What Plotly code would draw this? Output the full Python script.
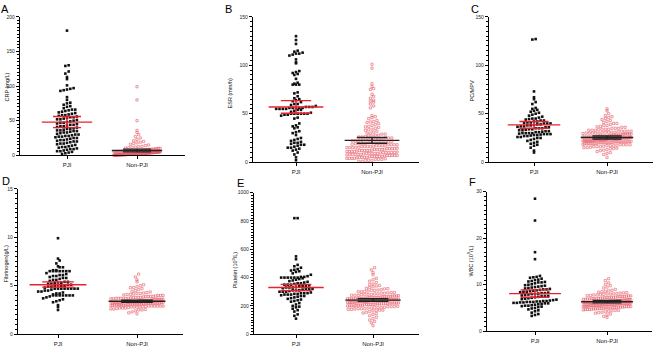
import numpy as np
import plotly.graph_objects as go

# ---------------- DATA ----------------
groups = ["PJI", "Non-PJI"]
panel_letters = ["A", "B", "C", "D", "E", "F"]
y_titles = ["CRP (mg/L)", "ESR (mm/h)", "PC/MPV", "Fibrinogen(g/L)",
            "Platelet (10<sup>9</sup>/L)", "WBC (10<sup>9</sup>/L)"]
y_max = [200, 150, 150, 15, 1000, 30]
y_major = [50, 50, 50, 5, 200, 10]

crp_pji = [180, 130, 129, 121, 118, 113, 110, 101, 97, 96, 95, 94, 93,
           84, 80, 76, 75, 73, 71, 70, 68, 66, 65, 64, 63, 62, 61, 60, 59, 58, 57, 56, 55, 55,
           54, 53, 52, 51, 50, 49, 48, 47, 46, 45, 44, 43, 42, 42, 41, 40, 39, 38, 37, 36, 35,
           35, 34, 33, 32, 31, 30, 30, 29, 28, 27, 26, 25, 25, 24, 23, 22, 21, 20, 20, 19, 18,
           17, 16, 15, 14, 13, 12, 11, 10, 9, 8, 7, 6, 5, 4, 3, 2, 66, 58, 52, 44, 38, 33, 27,
           22, 17, 12, 9, 6, 28, 36, 47]
crp_non = [99, 80, 50, 36, 33, 30, 27, 25, 23, 21, 20, 19, 18, 17, 16, 15, 14, 13,
           12.5, 12, 11.5, 11, 10.5, 10.2, 10, 9.6, 9.3, 9, 8.8, 8.5, 8.2, 8, 7.8, 7.5, 7.2, 7,
           6.8, 6.5, 6.3, 6, 6, 5.8, 5.5, 5.5, 5.3, 5, 5, 5, 4.8, 4.5, 4.5, 4.3, 4.2, 4, 4, 4,
           3.8, 3.6, 3.5, 3.5, 3.3, 3.2, 3, 3, 3, 2.9, 2.8, 2.6, 2.5, 2.5, 2.4, 2.3, 2.2, 2, 2,
           2, 2, 1.9, 1.8, 1.7, 1.6, 1.5, 1.5, 1.5, 1.4, 1.3, 1.2, 1.1, 1, 1, 1, 1, 0.9, 0.8,
           0.8, 0.7, 0.6, 0.5, 0.5, 0.5, 0.5, 0.4, 0.3, 0.3, 1.2, 2.1, 3.4, 4.6, 5.2, 6.1, 7.4,
           8.6, 2.7, 1.8, 0.9, 3.9, 4.4, 2.2, 1.6, 0.7, 5.6, 3.1, 2.4, 1.3, 0.6, 4.1, 3.7, 2.8,
           1.9, 1.1, 0.4, 6.6, 5.9, 4.9, 3.8, 2.6, 1.4, 0.8, 7.1, 2.3, 1.7, 3.2, 4.7, 0.5]

esr_pji = [130, 126, 122, 115, 114, 113, 112, 112, 111, 110, 106, 103, 102, 94, 93, 92, 91,
           90, 86, 82, 81, 80, 80, 80, 72, 71, 68, 66, 65, 64, 63, 62, 60, 60, 59, 58, 57, 57,
           57, 56, 56, 56, 56, 56, 55, 55, 55, 55, 54, 54, 53, 52, 51, 50, 50, 50, 50, 50, 50,
           49, 49, 48, 46, 45, 40, 38, 37, 36, 35, 32, 31, 30, 28, 25, 24, 23, 22, 21, 20, 20,
           19, 18, 18, 17, 16, 15, 15, 14, 13, 12, 10, 8, 5, 2]
esr_non = [101, 97, 81, 78, 76, 75, 70, 68, 66, 64, 63, 62, 60, 58, 56, 48, 47, 45, 43, 42,
           41, 40, 39, 38, 37, 36, 35, 34, 33, 32, 31, 30, 30, 29, 29, 28, 28, 27, 27, 26, 26,
           25, 25, 25, 24, 24, 24, 23, 23, 23, 22, 22, 22, 21, 21, 21, 20, 20, 20, 20, 19, 19,
           19, 18, 18, 18, 18, 17, 17, 17, 16, 16, 16, 16, 15, 15, 15, 15, 14, 14, 14, 14, 13,
           13, 13, 13, 12, 12, 12, 12, 12, 11, 11, 11, 11, 10, 10, 10, 10, 10, 9, 9, 9, 9, 9,
           8, 8, 8, 8, 8, 7, 7, 7, 7, 7, 6, 6, 6, 6, 6, 5, 5, 5, 5, 4, 4, 4, 4, 3, 3, 3, 2, 2,
           2, 1, 1, 10.5, 11.5, 12.5, 13.5, 14.5, 8.5, 9.5, 7.5, 6.5, 5.5, 4.5, 3.5, 17.5, 18.5,
           19.5, 15.5, 16.5, 21.5, 22.5, 26.5, 33.5, 36.5, 41.5, 46]

pcmpv_pji = [127, 126.5, 73, 67, 65, 62, 60, 56, 55, 54, 53, 52, 51, 50, 49, 48, 47, 46, 45,
             45, 44.5, 44, 43, 43, 42, 42, 41, 41, 40.5, 40, 40, 40, 39, 39, 38.5, 38, 38, 37,
             37, 36.5, 36, 36, 35, 35, 35, 34, 34, 33.5, 33, 33, 32, 32, 31.5, 31, 31, 30, 30,
             30, 30, 29.5, 29, 29, 29, 28.5, 28, 28, 27.5, 27, 27, 26, 26, 25, 25, 24, 23, 22,
             21, 20, 19, 18, 17, 15, 12, 10]
pcmpv_non = [55, 53, 50, 48, 47, 46, 45, 44, 43, 42, 41, 40, 40, 39, 38, 38, 37, 36, 36, 35,
             35, 35, 34, 34, 34, 33, 33, 33, 32, 32, 32, 32, 31, 31, 31, 31, 30, 30, 30, 30, 30,
             29, 29, 29, 29, 29, 28, 28, 28, 28, 28, 28, 27, 27, 27, 27, 27, 27, 26, 26, 26, 26,
             26, 26, 26, 25, 25, 25, 25, 25, 25, 25, 24, 24, 24, 24, 24, 24, 24, 24, 23, 23, 23,
             23, 23, 23, 23, 23, 22, 22, 22, 22, 22, 22, 22, 22, 21, 21, 21, 21, 21, 21, 21, 20,
             20, 20, 20, 20, 20, 19, 19, 19, 19, 19, 18, 18, 18, 18, 17, 17, 17, 16, 16, 16, 15,
             15, 14, 14, 13, 12, 11, 10, 8, 5, 24.5, 23.5, 22.5, 21.5, 25.5, 26.5, 27.5, 20.5,
             19.5, 28.5, 29.5, 18.5, 30.5, 31.5, 17.5, 16.5, 33.5, 24.5, 23.5, 22.5, 21.5, 25.5,
             26.5, 20.5, 19.5, 36.5, 15.5, 14.5, 12.5, 9]

fib_pji = [9.9, 7.8, 7.6, 7.3, 7.0, 6.9, 6.9, 6.6, 6.6, 6.5, 6.5, 6.5, 6.5, 6.5, 6.5, 6.5, 6.3,
           6.2, 6.1, 6.0, 6.0, 5.9, 5.8, 5.7, 5.6, 5.5, 5.4, 5.3, 5.3, 5.3, 5.2, 5.2, 5.1, 5.0,
           5.0, 5.0, 4.9, 4.9, 4.8, 4.7, 4.7, 4.7, 4.7, 4.7, 4.7, 4.7, 4.7, 4.6, 4.5, 4.5, 4.4,
           4.3, 4.2, 4.1, 4.0, 4.0, 4.0, 4.0, 4.0, 4.0, 4.0, 3.9, 3.8, 3.7, 3.6, 3.5, 3.4, 3.3,
           3.0, 2.8, 2.5, 5.6, 5.8, 5.1, 5.4, 6.1, 4.4, 4.2, 5.0]
fib_non = [6.2, 5.9, 5.6, 5.4, 5.1, 5.0, 4.9, 4.8, 4.8, 4.7, 4.6, 4.5, 4.4, 4.3, 4.2, 4.2, 4.1,
           4.1, 4.0, 4.0, 4.0, 3.9, 3.9, 3.9, 3.9, 3.8, 3.8, 3.8, 3.8, 3.7, 3.7, 3.7, 3.7, 3.7,
           3.6, 3.6, 3.6, 3.6, 3.6, 3.5, 3.5, 3.5, 3.5, 3.5, 3.5, 3.4, 3.4, 3.4, 3.4, 3.4, 3.4,
           3.4, 3.3, 3.3, 3.3, 3.3, 3.3, 3.3, 3.3, 3.2, 3.2, 3.2, 3.2, 3.2, 3.2, 3.2, 3.1, 3.1,
           3.1, 3.1, 3.1, 3.1, 3.0, 3.0, 3.0, 3.0, 3.0, 3.0, 2.9, 2.9, 2.9, 2.9, 2.9, 2.8, 2.8,
           2.8, 2.8, 2.7, 2.7, 2.7, 2.6, 2.6, 2.5, 2.5, 2.4, 2.3, 2.2, 2.1, 3.35, 3.45, 3.25,
           3.15, 3.55, 3.05, 2.95, 3.65, 3.75, 2.85, 3.85, 2.75, 3.95, 4.05, 2.65, 3.35, 3.45,
           3.25, 3.15, 3.55, 3.05, 2.95, 3.65, 2.85, 4.15, 4.25, 4.35, 2.55, 3.3, 3.4, 3.2, 3.5,
           3.1, 3.6, 3.0, 3.7, 2.9]

plt_pji = [820, 820, 550, 530, 490, 480, 470, 460, 455, 450, 445, 440, 430, 420, 410, 405,
           405, 400, 400, 400, 400, 400, 400, 395, 390, 385, 380, 375, 370, 365, 360, 355, 350,
           350, 345, 340, 340, 335, 330, 330, 325, 320, 320, 315, 310, 310, 305, 300, 300, 295,
           290, 290, 290, 285, 285, 280, 280, 275, 270, 265, 260, 255, 250, 245, 240, 235, 230,
           220, 210, 200, 195, 190, 180, 170, 160, 140, 130, 110, 300, 310, 320, 330, 340, 350,
           360, 280, 270]
plt_non = [470, 455, 435, 420, 395, 385, 375, 365, 355, 350, 345, 340, 335, 330, 325, 320,
           315, 310, 310, 305, 300, 300, 295, 295, 290, 290, 285, 285, 280, 280, 280, 275, 275,
           275, 270, 270, 270, 265, 265, 265, 265, 260, 260, 260, 260, 255, 255, 255, 255, 250,
           250, 250, 250, 250, 245, 245, 245, 245, 240, 240, 240, 240, 240, 235, 235, 235, 235,
           230, 230, 230, 230, 230, 225, 225, 225, 225, 220, 220, 220, 220, 215, 215, 215, 210,
           210, 210, 210, 205, 205, 205, 200, 200, 200, 200, 195, 195, 195, 190, 190, 190, 185,
           185, 180, 180, 180, 175, 175, 170, 170, 165, 160, 155, 150, 145, 140, 130, 120, 110,
           100, 90, 80, 60, 262, 248, 238, 228, 218, 208, 198, 268, 258, 242, 232, 222, 212,
           202, 272, 252, 236, 226, 216, 188, 178, 168, 282, 292, 302, 312, 322, 257, 247, 237,
           227, 217]

wbc_pji = [28.5, 23.8, 17.0, 15.5, 11.9, 11.7, 11.6, 11.5, 11.3, 11.1, 11.0, 10.8, 10.7, 10.6,
           10.5, 10.3, 10.1, 10.0, 9.9, 9.8, 9.7, 9.6, 9.5, 9.4, 9.3, 9.2, 9.1, 9.0, 8.9, 8.8,
           8.7, 8.6, 8.5, 8.4, 8.3, 8.2, 8.1, 8.0, 8.0, 7.9, 7.8, 7.7, 7.6, 7.5, 7.4, 7.3, 7.2,
           7.1, 7.0, 6.9, 6.8, 6.7, 6.6, 6.5, 6.4, 6.3, 6.3, 6.2, 6.2, 6.1, 6.0, 6.0, 5.9, 5.8,
           5.7, 5.6, 5.5, 5.4, 5.3, 5.2, 5.0, 4.9, 4.7, 4.5, 4.3, 4.0, 3.7, 3.5, 3.3, 6.3, 6.5,
           8.5, 9.0, 7.5, 5.5, 10.5, 8.2, 6.1, 6.4]
wbc_non = [11.3, 10.9, 10.4, 10.1, 9.8, 9.5, 9.3, 9.0, 8.8, 8.7, 8.6, 8.5, 8.4, 8.3, 8.2, 8.1,
           8.0, 8.0, 7.9, 7.8, 7.8, 7.7, 7.6, 7.6, 7.5, 7.5, 7.4, 7.3, 7.3, 7.2, 7.2, 7.1, 7.0,
           7.0, 7.0, 6.9, 6.9, 6.8, 6.8, 6.8, 6.7, 6.7, 6.7, 6.6, 6.6, 6.6, 6.5, 6.5, 6.5, 6.5,
           6.4, 6.4, 6.4, 6.4, 6.3, 6.3, 6.3, 6.3, 6.2, 6.2, 6.2, 6.2, 6.1, 6.1, 6.1, 6.1, 6.0,
           6.0, 6.0, 6.0, 5.9, 5.9, 5.9, 5.9, 5.8, 5.8, 5.8, 5.8, 5.7, 5.7, 5.7, 5.6, 5.6, 5.6,
           5.5, 5.5, 5.5, 5.5, 5.4, 5.4, 5.4, 5.3, 5.3, 5.3, 5.2, 5.2, 5.2, 5.1, 5.1, 5.0, 5.0,
           5.0, 4.9, 4.9, 4.8, 4.8, 4.7, 4.7, 4.6, 4.5, 4.5, 4.4, 4.3, 4.2, 4.1, 4.0, 3.9, 3.7,
           3.5, 3.2, 3.0, 6.45, 6.35, 6.25, 6.15, 6.05, 5.95, 5.85, 5.75, 5.65, 5.55, 5.45, 5.35,
           5.25, 5.15, 6.55, 6.65, 6.75, 6.85, 6.95, 7.05, 7.15, 7.25, 7.35, 7.45, 4.95, 4.85,
           4.75, 4.65, 7.55, 7.65, 7.85, 8.05, 8.25]

pji_values = [crp_pji, esr_pji, pcmpv_pji, fib_pji, plt_pji, wbc_pji]
non_values = [crp_non, esr_non, pcmpv_non, fib_non, plt_non, wbc_non]

# mean and error-bar ends: (mean, low, high)
pji_mean = [48, 57, 38.5, 5.1, 330, 8.1]
pji_lo = [40, 50.5, 35, 4.85, 308, 7.3]
pji_hi = [56, 63.5, 42, 5.4, 352, 8.9]
non_mean = [7, 22.5, 25.5, 3.4, 241, 6.35]
non_lo = [5, 19.5, 24, 3.3, 232, 6.1]
non_hi = [9, 25.5, 27, 3.5, 250, 6.6]

# ---------------- LAYOUT (pixel geometry of each panel) ----------------
W, H = 658, 349
# x0, x1, ytop, ybottom, x of PJI tick, x of Non-PJI tick
geom = [
    (20, 185, 14, 155, 67, 137),
    (253, 419, 14, 162, 296, 372),
    (489, 653, 14, 162, 534, 607),
    (18, 183, 189, 337, 58, 137),
    (254, 419, 193, 337, 296, 373),
    (487, 652, 192, 334, 535, 607),
]
letter_pos = [(5, 6), (228, 6), (475, 6), (6, 181), (240, 183), (472, 182)]
title_pos = [(7, 86), (230, 92), (472, 90), (6, 266), (235, 272), (471, 262)]

BLACK = "#111111"
RED_PT = "#e2424f"
RED_LINE = "#e8232d"


def swarm(vals, center, bin_h, dx, maxhalf):
    v = np.asarray(vals, dtype=float)
    keys = np.floor(v / bin_h).astype(int)
    xs = np.empty(len(v))
    for k in np.unique(keys):
        idx = np.where(keys == k)[0]
        idx = idx[np.argsort(v[idx], kind="stable")]
        n = len(idx)
        step = dx
        if n > 1 and (n - 1) * dx / 2 > maxhalf:
            step = 2 * maxhalf / (n - 1)
        offs = (np.arange(n) - (n - 1) / 2) * step
        xs[idx] = center + offs
    return xs


fig = go.Figure()
annotations = []
layout_axes = {}

for i in range(6):
    x0, x1, yt, yb, pp, pn = geom[i]
    unit = pn - pp
    xr = [-(pp - x0) / unit, (x1 - pp) / unit]
    h_px = yb - yt
    ymax = y_max[i]
    bin_h = 3.6 * ymax / h_px
    dx = 3.3 / unit

    ax = "" if i == 0 else str(i + 1)
    xa, ya = "x" + ax, "y" + ax

    xs_p = swarm(pji_values[i], 0, bin_h, dx, 0.36)
    xs_n = swarm(non_values[i], 1, bin_h, dx, 0.33)
    fig.add_trace(go.Scatter(x=xs_p, y=pji_values[i], mode="markers", xaxis=xa, yaxis=ya,
                             marker=dict(symbol="square", size=2.6, color=BLACK, line=dict(width=0)),
                             cliponaxis=False, showlegend=False, hoverinfo="y"))
    fig.add_trace(go.Scatter(x=xs_n, y=non_values[i], mode="markers", xaxis=xa, yaxis=ya,
                             marker=dict(symbol="square-open", size=2.2, color=RED_PT,
                                         line=dict(width=0.6, color=RED_PT)),
                             opacity=0.85, cliponaxis=False, showlegend=False, hoverinfo="y"))

    for c, m, lo, hi, col in [(0, pji_mean[i], pji_lo[i], pji_hi[i], RED_LINE),
                              (1, non_mean[i], non_lo[i], non_hi[i], "#222222")]:
        lw, cw = 0.36, 0.2
        xl = [c - lw, c + lw, None, c, c, None, c - cw, c + cw, None, c - cw, c + cw]
        yl = [m, m, None, lo, hi, None, lo, lo, None, hi, hi]
        fig.add_trace(go.Scatter(x=xl, y=yl, mode="lines", xaxis=xa, yaxis=ya,
                                 line=dict(color=col, width=1.4), showlegend=False,
                                 hoverinfo="skip", cliponaxis=False))

    dom_x = [x0 / W, x1 / W]
    dom_y = [1 - yb / H, 1 - yt / H]
    layout_axes["xaxis" + ax] = dict(
        domain=dom_x, range=xr, anchor=ya, tickvals=[0, 1], ticktext=groups,
        showline=True, linecolor="black", linewidth=1.3, ticks="outside", ticklen=3,
        tickwidth=1, tickcolor="black", showgrid=False, zeroline=False,
        tickfont=dict(family="Liberation Sans", size=6, color="#111111"), fixedrange=True)
    layout_axes["yaxis" + ax] = dict(
        domain=dom_y, range=[0, ymax], anchor=xa, showline=True, linecolor="black",
        linewidth=1.3, ticks="outside", ticklen=3, tickwidth=1, tickcolor="black",
        dtick=y_major[i], tick0=0, showgrid=False, zeroline=False,
        minor=dict(ticks="outside", ticklen=1.8, tickwidth=0.8, tickcolor="black",
                   dtick=y_major[i] / 10, showgrid=False),
        tickfont=dict(family="Liberation Sans", size=5, color="#222222"), fixedrange=True)

    lx, ly = letter_pos[i]
    annotations.append(dict(text=panel_letters[i], x=lx / W, y=1 - ly / H, xref="paper",
                            yref="paper", showarrow=False, xanchor="center", yanchor="middle",
                            font=dict(family="Liberation Sans", size=11, color="black")))
    tx, ty = title_pos[i]
    annotations.append(dict(text=y_titles[i], x=tx / W, y=1 - ty / H, xref="paper",
                            yref="paper", showarrow=False, xanchor="center", yanchor="middle",
                            textangle=-90,
                            font=dict(family="Liberation Sans", size=5.5, color="#111111")))

fig.update_layout(width=W, height=H, margin=dict(l=0, r=0, t=0, b=0),
                  paper_bgcolor="white", plot_bgcolor="white",
                  annotations=annotations, **layout_axes)

fig.write_html("out.html", config={"displayModeBar": False})
